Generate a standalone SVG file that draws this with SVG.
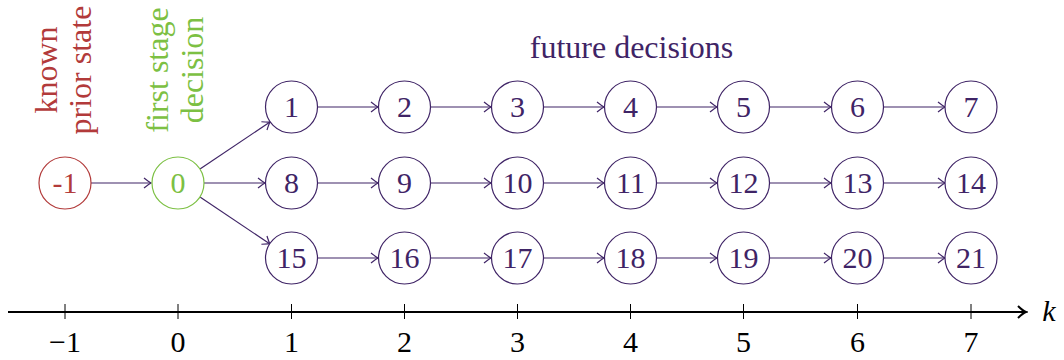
<svg xmlns="http://www.w3.org/2000/svg" width="1064" height="360" viewBox="0 0 1064 360" font-family="'Liberation Serif', 'Times New Roman', 'DejaVu Serif', serif">
<defs>
<marker id="ah" viewBox="-8 -6 10 12" refX="0" refY="0" markerWidth="10" markerHeight="12" markerUnits="userSpaceOnUse" orient="auto">
<path d="M-7,-5 Q-2,-1 0,0 Q-2,1 -7,5" fill="none" stroke="#3f2466" stroke-width="1.2"/>
</marker>
<marker id="axh" viewBox="-10 -8 12 16" refX="0" refY="0" markerWidth="12" markerHeight="16" markerUnits="userSpaceOnUse" orient="auto">
<path d="M-8,-6 Q-3,-1 0,0 Q-3,1 -8,6" fill="none" stroke="#000" stroke-width="2"/>
</marker>
</defs>
<g id="labels" font-size="32" text-anchor="middle">
<text fill="#b23a3a" transform="translate(57,70) rotate(-90)">known</text>
<text fill="#b23a3a" transform="translate(91,70) rotate(-90)">prior state</text>
<text fill="#7cc043" transform="translate(168,70) rotate(-90)">first stage</text>
<text fill="#7cc043" transform="translate(203,70) rotate(-90)">decision</text>
<text fill="#3f2466" x="631.5" y="58">future decisions</text>
</g>
<g id="connectors" stroke="#3f2466" stroke-width="1.2" marker-end="url(#ah)">
<line x1="91" y1="183" x2="151" y2="183"/>
<line x1="200" y1="169" x2="270" y2="122"/>
<line x1="204" y1="183" x2="265" y2="183"/>
<line x1="200" y1="197" x2="270" y2="244"/>
<line x1="318" y1="107" x2="378" y2="107"/><line x1="431" y1="107" x2="491" y2="107"/><line x1="544" y1="107" x2="604" y2="107"/><line x1="657" y1="107" x2="717" y2="107"/><line x1="770" y1="107" x2="831" y2="107"/><line x1="884" y1="107" x2="945" y2="107"/>
<line x1="318" y1="183" x2="378" y2="183"/><line x1="431" y1="183" x2="491" y2="183"/><line x1="544" y1="183" x2="604" y2="183"/><line x1="657" y1="183" x2="717" y2="183"/><line x1="770" y1="183" x2="831" y2="183"/><line x1="884" y1="183" x2="945" y2="183"/>
<line x1="318" y1="258" x2="378" y2="258"/><line x1="431" y1="258" x2="491" y2="258"/><line x1="544" y1="258" x2="604" y2="258"/><line x1="657" y1="258" x2="717" y2="258"/><line x1="770" y1="258" x2="831" y2="258"/><line x1="884" y1="258" x2="945" y2="258"/>
</g>
<g id="nodes" font-size="30" text-anchor="middle" stroke-width="1.2">
<g id="n-1" fill="#b23a3a"><circle cx="65" cy="183" r="26" fill="#fff" stroke="#b23a3a"/><text x="65" y="193">-1</text></g>
<g id="n0" fill="#7cc043"><circle cx="178" cy="183" r="26" fill="#fff" stroke="#7cc043"/><text x="178" y="193">0</text></g>
<g fill="#3f2466">
<g id="n1"><circle cx="291.5" cy="107" r="26" fill="#fff" stroke="#3f2466"/><text x="291.5" y="117">1</text></g>
<g id="n2"><circle cx="404.5" cy="107" r="26" fill="#fff" stroke="#3f2466"/><text x="404.5" y="117">2</text></g>
<g id="n3"><circle cx="517.5" cy="107" r="26" fill="#fff" stroke="#3f2466"/><text x="517.5" y="117">3</text></g>
<g id="n4"><circle cx="630.5" cy="107" r="26" fill="#fff" stroke="#3f2466"/><text x="630.5" y="117">4</text></g>
<g id="n5"><circle cx="743.5" cy="107" r="26" fill="#fff" stroke="#3f2466"/><text x="743.5" y="117">5</text></g>
<g id="n6"><circle cx="857.5" cy="107" r="26" fill="#fff" stroke="#3f2466"/><text x="857.5" y="117">6</text></g>
<g id="n7"><circle cx="971" cy="107" r="26" fill="#fff" stroke="#3f2466"/><text x="971" y="117">7</text></g>
<g id="n8"><circle cx="291.5" cy="183" r="26" fill="#fff" stroke="#3f2466"/><text x="291.5" y="193">8</text></g>
<g id="n9"><circle cx="404.5" cy="183" r="26" fill="#fff" stroke="#3f2466"/><text x="404.5" y="193">9</text></g>
<g id="n10"><circle cx="517.5" cy="183" r="26" fill="#fff" stroke="#3f2466"/><text x="517.5" y="193">10</text></g>
<g id="n11"><circle cx="630.5" cy="183" r="26" fill="#fff" stroke="#3f2466"/><text x="630.5" y="193">11</text></g>
<g id="n12"><circle cx="743.5" cy="183" r="26" fill="#fff" stroke="#3f2466"/><text x="743.5" y="193">12</text></g>
<g id="n13"><circle cx="857.5" cy="183" r="26" fill="#fff" stroke="#3f2466"/><text x="857.5" y="193">13</text></g>
<g id="n14"><circle cx="971" cy="183" r="26" fill="#fff" stroke="#3f2466"/><text x="971" y="193">14</text></g>
<g id="n15"><circle cx="291.5" cy="258" r="26" fill="#fff" stroke="#3f2466"/><text x="291.5" y="268">15</text></g>
<g id="n16"><circle cx="404.5" cy="258" r="26" fill="#fff" stroke="#3f2466"/><text x="404.5" y="268">16</text></g>
<g id="n17"><circle cx="517.5" cy="258" r="26" fill="#fff" stroke="#3f2466"/><text x="517.5" y="268">17</text></g>
<g id="n18"><circle cx="630.5" cy="258" r="26" fill="#fff" stroke="#3f2466"/><text x="630.5" y="268">18</text></g>
<g id="n19"><circle cx="743.5" cy="258" r="26" fill="#fff" stroke="#3f2466"/><text x="743.5" y="268">19</text></g>
<g id="n20"><circle cx="857.5" cy="258" r="26" fill="#fff" stroke="#3f2466"/><text x="857.5" y="268">20</text></g>
<g id="n21"><circle cx="971" cy="258" r="26" fill="#fff" stroke="#3f2466"/><text x="971" y="268">21</text></g>
</g>
</g>
<g id="axis">
<line x1="8" y1="312" x2="1026" y2="312" stroke="#000" stroke-width="2" marker-end="url(#axh)"/>
<g stroke="#000" stroke-width="1">
<line x1="65" y1="304" x2="65" y2="319"/>
<line x1="178" y1="304" x2="178" y2="319"/>
<line x1="291.5" y1="304" x2="291.5" y2="319"/>
<line x1="404.5" y1="304" x2="404.5" y2="319"/>
<line x1="517.5" y1="304" x2="517.5" y2="319"/>
<line x1="630.5" y1="304" x2="630.5" y2="319"/>
<line x1="743.5" y1="304" x2="743.5" y2="319"/>
<line x1="857.5" y1="304" x2="857.5" y2="319"/>
<line x1="971" y1="304" x2="971" y2="319"/>
</g>
<g font-size="30" text-anchor="middle" fill="#000">
<text x="65" y="352">−1</text>
<text x="178" y="352">0</text>
<text x="291.5" y="352">1</text>
<text x="404.5" y="352">2</text>
<text x="517.5" y="352">3</text>
<text x="630.5" y="352">4</text>
<text x="743.5" y="352">5</text>
<text x="857.5" y="352">6</text>
<text x="971" y="352">7</text>
<text x="1049" y="321" font-style="italic">k</text>
</g>
</g>
</svg>
